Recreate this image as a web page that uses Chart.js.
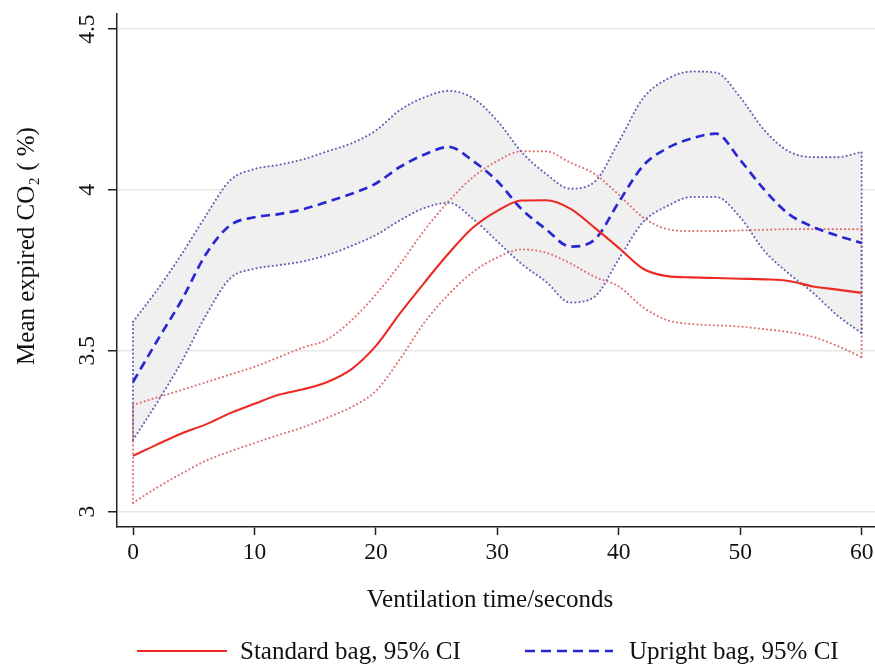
<!DOCTYPE html>
<html>
<head>
<meta charset="utf-8">
<script src="https://cdn.jsdelivr.net/npm/chart.js@4/dist/chart.umd.min.js"></script>
<style>
  html, body { margin: 0; padding: 0; background: #fff; }
  #wrap { width: 875px; height: 665px; position: relative; }
</style>
</head>
<body>
<div id="wrap"><canvas id="co2Chart"></canvas></div>
<script>
// DATA (every 2 seconds)
const seconds = [0, 2, 4, 6, 8, 10, 12, 14, 16, 18, 20, 22, 24, 26, 28, 30,
                 32, 34, 36, 38, 40, 42, 44, 46, 48, 50, 52, 54, 56, 58, 60];

const standardMean = [3.173, 3.209, 3.243, 3.271, 3.306, 3.335, 3.363, 3.380, 3.403, 3.443, 3.515,
                      3.617, 3.712, 3.803, 3.883, 3.935, 3.967, 3.968, 3.942, 3.883, 3.820,
                      3.755, 3.732, 3.728, 3.726, 3.724, 3.722, 3.717, 3.700, 3.690, 3.680];
const standardUpper = [3.331, 3.355, 3.378, 3.402, 3.426, 3.450, 3.480, 3.510, 3.535, 3.595, 3.675,
                       3.770, 3.875, 3.965, 4.040, 4.090, 4.120, 4.120, 4.085, 4.050, 3.985,
                       3.915, 3.878, 3.872, 3.872, 3.874, 3.876, 3.878, 3.878, 3.878, 3.878];
const standardLower = [3.027, 3.075, 3.118, 3.158, 3.187, 3.213, 3.238, 3.262, 3.292, 3.325, 3.375,
                       3.475, 3.588, 3.676, 3.745, 3.790, 3.815, 3.805, 3.772, 3.730, 3.700,
                       3.635, 3.595, 3.583, 3.579, 3.575, 3.567, 3.558, 3.543, 3.515, 3.480];

const uprightMean = [3.403, 3.532, 3.657, 3.800, 3.890, 3.915, 3.925, 3.940, 3.963, 3.988, 4.020,
                     4.072, 4.110, 4.134, 4.090, 4.027, 3.940, 3.878, 3.824, 3.845, 3.962,
                     4.075, 4.130, 4.160, 4.175, 4.093, 4.000, 3.925, 3.885, 3.858, 3.835];
const uprightUpper = [3.590, 3.690, 3.800, 3.920, 4.030, 4.065, 4.078, 4.095, 4.120, 4.145, 4.185,
                      4.249, 4.288, 4.308, 4.285, 4.215, 4.118, 4.050, 4.004, 4.025, 4.150,
                      4.285, 4.345, 4.368, 4.365, 4.288, 4.185, 4.120, 4.102, 4.102, 4.118];
const uprightLower = [3.223, 3.340, 3.466, 3.610, 3.725, 3.755, 3.766, 3.778, 3.798, 3.826, 3.860,
                      3.906, 3.944, 3.960, 3.910, 3.840, 3.770, 3.715, 3.650, 3.668, 3.785,
                      3.900, 3.950, 3.978, 3.978, 3.915, 3.810, 3.740, 3.680, 3.610, 3.555];

const xTicks = [0, 10, 20, 30, 40, 50, 60];
const yTicks = [3, 3.5, 4, 4.5];
const yTickLabels = ['3', '3.5', '4', '4.5'];

const xTitle = 'Ventilation time/seconds';
const yTitle = 'Mean expired CO\u2082 ( %)';
const legendLabels = ['Standard bag, 95% CI', 'Upright bag, 95% CI'];

// colours
const RED = '#ec2a24';
const BLUE = '#2828d2';
const RED_CI = '#e07272';
const BLUE_CI = '#6464b4';
const BAND = '#f0f0f0';
const SERIF = "'Liberation Serif', 'Times New Roman', serif";

const pts = arr => seconds.map((s, i) => ({ x: s, y: arr[i] }));
const edge = (i, lo, hi) => [{ x: seconds[i], y: lo[i] }, { x: seconds[i], y: hi[i] }];
const last = seconds.length - 1;

const dotted = color => ({
    borderColor: color, borderWidth: 2.1, borderDash: [0.1, 4],
    borderCapStyle: 'round', pointRadius: 0, fill: false
});

const datasets = [
    { label: 'Standard bag', data: pts(standardMean), borderColor: RED, borderWidth: 2.1,
      pointRadius: 0, fill: false, cubicInterpolationMode: 'monotone' },
    { label: 'Upright bag', data: pts(uprightMean), borderColor: BLUE, borderWidth: 2.7,
      borderDash: [9, 5.5], pointRadius: 0, fill: false, cubicInterpolationMode: 'monotone' },
    Object.assign(dotted(BLUE_CI), { data: pts(uprightUpper), fill: '+1', backgroundColor: BAND,
      cubicInterpolationMode: 'monotone' }),
    Object.assign(dotted(BLUE_CI), { data: pts(uprightLower), cubicInterpolationMode: 'monotone' }),
    Object.assign(dotted(RED_CI), { data: pts(standardUpper), cubicInterpolationMode: 'monotone' }),
    Object.assign(dotted(RED_CI), { data: pts(standardLower), cubicInterpolationMode: 'monotone' }),
    // vertical ends of the CI bands
    Object.assign(dotted(BLUE_CI), { data: edge(0, uprightLower, uprightUpper) }),
    Object.assign(dotted(BLUE_CI), { data: edge(last, uprightLower, uprightUpper) }),
    Object.assign(dotted(RED_CI), { data: edge(0, standardLower, standardUpper) }),
    Object.assign(dotted(RED_CI), { data: edge(last, standardLower, standardUpper) })
];

// titles + legend, drawn in the bottom/left margins
const textPlugin = {
    id: 'textPlugin',
    afterDraw(chart) {
        const ctx = chart.ctx;
        ctx.save();
        ctx.fillStyle = '#111';
        ctx.font = '25px ' + SERIF;
        ctx.textAlign = 'center';
        ctx.textBaseline = 'alphabetic';
        ctx.fillText(xTitle, 490, 607);

        ctx.save();
        ctx.translate(34, 246);
        ctx.rotate(-Math.PI / 2);
        ctx.fillText(yTitle, 0, 0);
        ctx.restore();

        // legend
        const items = [
            { x0: 137, x1: 227, tx: 240, color: RED, width: 2.1, dash: [] },
            { x0: 525, x1: 613, tx: 629, color: BLUE, width: 2.4, dash: [10, 6] }
        ];
        const ly = 651;
        items.forEach((it, i) => {
            ctx.beginPath();
            ctx.setLineDash(it.dash);
            ctx.strokeStyle = it.color;
            ctx.lineWidth = it.width;
            ctx.moveTo(it.x0, ly);
            ctx.lineTo(it.x1, ly);
            ctx.stroke();
            ctx.setLineDash([]);
            ctx.textAlign = 'left';
            ctx.fillText(legendLabels[i], it.tx, 659);
        });
        ctx.restore();
    }
};

new Chart(document.getElementById('co2Chart'), {
    type: 'line',
    data: { datasets },
    options: {
        responsive: true,
        maintainAspectRatio: false,
        animation: false,
        events: [],
        layout: { padding: { top: 14, right: 0, bottom: 0, left: 0 } },
        plugins: {
            legend: { display: false },
            tooltip: { enabled: false },
            filler: { drawTime: 'beforeDatasetsDraw' }
        },
        scales: {
            x: {
                type: 'linear',
                min: -1.32,
                max: 61.1,
                afterFit: s => { s.height = 138; s.paddingLeft = 0; s.paddingRight = 0; },
                afterBuildTicks: s => { s.ticks = xTicks.map(v => ({ value: v })); },
                grid: { drawOnChartArea: false, tickLength: 8, tickColor: '#222', tickWidth: 1.5 },
                border: { color: '#222', width: 1.5 },
                ticks: { color: '#111', padding: 4, maxRotation: 0,
                         font: { family: SERIF, size: 23.5 },
                         callback: v => String(v) }
            },
            y: {
                type: 'linear',
                min: 2.952,
                max: 4.547,
                afterFit: s => { s.width = 117; s.paddingTop = 0; s.paddingBottom = 0; },
                afterBuildTicks: s => { s.ticks = yTicks.map(v => ({ value: v })); },
                grid: { color: '#e6e6e6', lineWidth: 1.5, tickLength: 9, tickColor: '#222', tickWidth: 1.5 },
                border: { color: '#222', width: 1.5 },
                ticks: { color: '#111', padding: 5, minRotation: 90, maxRotation: 90,
                         crossAlign: 'center',
                         font: { family: SERIF, size: 23.5 },
                         callback: v => yTickLabels[yTicks.indexOf(v)] }
            }
        }
    },
    plugins: [textPlugin]
});
</script>
</body>
</html>
